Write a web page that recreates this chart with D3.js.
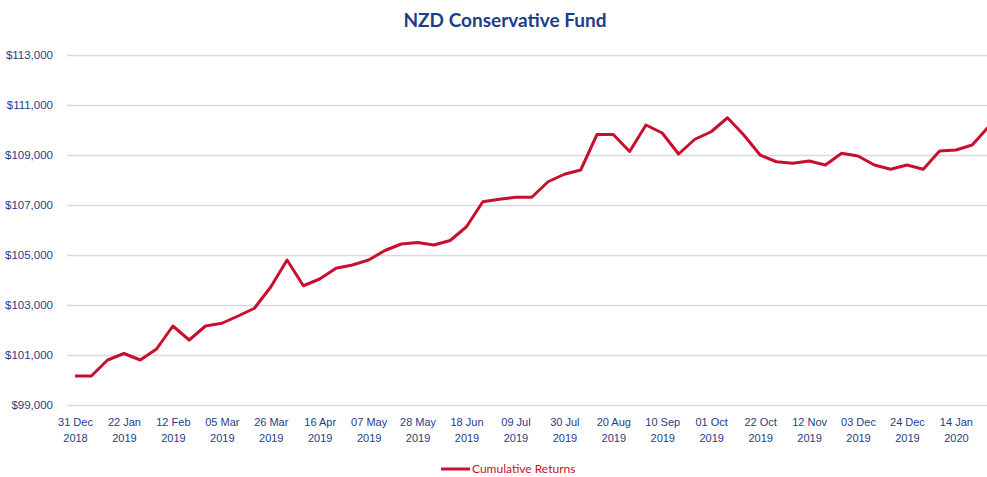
<!DOCTYPE html>
<html>
<head>
<meta charset="utf-8">
<script src="https://cdn.jsdelivr.net/npm/d3@7"></script>
<style>
	html, body { margin: 0; padding: 0; background: #fff; }
	svg { display: block; font-family: Lato, "Open Sans", sans-serif; }
</style>
</head>
<body>
<div id="chart"></div>
<script>
/* weekly valuation dates (first one is a Monday, the rest Tuesdays) */
const dates = [
	"31 Dec 2018", "08 Jan 2019", "15 Jan 2019", "22 Jan 2019", "29 Jan 2019", "05 Feb 2019",
	"12 Feb 2019", "19 Feb 2019", "26 Feb 2019", "05 Mar 2019", "12 Mar 2019", "19 Mar 2019",
	"26 Mar 2019", "02 Apr 2019", "09 Apr 2019", "16 Apr 2019", "23 Apr 2019", "30 Apr 2019",
	"07 May 2019", "14 May 2019", "21 May 2019", "28 May 2019", "04 Jun 2019", "11 Jun 2019",
	"18 Jun 2019", "25 Jun 2019", "02 Jul 2019", "09 Jul 2019", "16 Jul 2019", "23 Jul 2019",
	"30 Jul 2019", "06 Aug 2019", "13 Aug 2019", "20 Aug 2019", "27 Aug 2019", "03 Sep 2019",
	"10 Sep 2019", "17 Sep 2019", "24 Sep 2019", "01 Oct 2019", "08 Oct 2019", "15 Oct 2019",
	"22 Oct 2019", "29 Oct 2019", "05 Nov 2019", "12 Nov 2019", "19 Nov 2019", "26 Nov 2019",
	"03 Dec 2019", "10 Dec 2019", "17 Dec 2019", "24 Dec 2019", "31 Dec 2019", "07 Jan 2020",
	"14 Jan 2020", "21 Jan 2020", "28 Jan 2020"
];

/* cumulative returns */
const values = [
	100160, 100160, 100800, 101060, 100800, 101240,
	102160, 101600, 102160, 102270, 102560, 102870,
	103720, 104800, 103770, 104040, 104470, 104600,
	104800, 105180, 105440, 105500, 105400, 105580,
	106130, 107130, 107230, 107310, 107310, 107930,
	108230, 108400, 109820, 109820, 109140, 110200,
	109880, 109040, 109630, 109930, 110490, 109800,
	109000, 108730, 108670, 108760, 108600, 109070,
	108960, 108600, 108430, 108600, 108430, 109160,
	109200, 109400, 110130
];

const yTicks = [99000, 101000, 103000, 105000, 107000, 109000, 111000, 113000];
const seriesName = "Cumulative Returns";
const title = "NZD Conservative Fund";

const width = 987, height = 477;
const navy = "#1f3c88", red = "#c8102e", grid = "#d9d9d9";

const data = dates.map((d, i) => ({ date: d, value: values[i] }));

const svg = d3.select("#chart")
	.append("svg")
	.attr("width", width)
	.attr("height", height);

svg.append("rect").attr("width", width).attr("height", height).attr("fill", "#fff");

const x = d3.scalePoint().domain(dates).range([75, 988.5]);
const y = d3.scaleLinear().domain([99000, 113000]).range([405, 55]);

/* gridlines + y labels */
const yAxis = svg.append("g")
	.attr("transform", "translate(67,0)")
	.call(d3.axisLeft(y)
		.tickValues(yTicks)
		.tickSize(-(width - 67))
		.tickPadding(14)
		.tickFormat(d => "$" + d3.format(",")(d)));
yAxis.select(".domain").remove();
yAxis.selectAll("line").attr("stroke", grid).attr("stroke-width", 1.3);
yAxis.selectAll("text")
	.attr("fill", navy)
	.attr("font-size", "11.5px");

/* x labels, every third week, on two lines */
const xAxis = svg.append("g")
	.attr("transform", "translate(0,405)")
	.call(d3.axisBottom(x)
		.tickValues(dates.filter((d, i) => i % 3 === 0))
		.tickSize(0)
		.tickFormat(""));
xAxis.select(".domain").remove();
xAxis.selectAll(".tick").each(function(d) {
	const parts = d.split(" ");
	const t = d3.select(this).append("text")
		.attr("fill", navy)
		.attr("font-size", "11px")
		.attr("text-anchor", "middle");
	t.append("tspan").attr("x", 0).attr("y", 21).text(parts[0] + " " + parts[1]);
	t.append("tspan").attr("x", 0).attr("y", 37).text(parts[2]);
});

/* the series */
const line = d3.line()
	.x(d => x(d.date))
	.y(d => y(d.value));

svg.append("path")
	.datum(data)
	.attr("fill", "none")
	.attr("stroke", red)
	.attr("stroke-width", 3)
	.attr("stroke-linejoin", "round")
	.attr("d", line);

/* title */
svg.append("text")
	.attr("x", 505)
	.attr("y", 27)
	.attr("text-anchor", "middle")
	.attr("fill", navy)
	.attr("font-size", "19px")
	.attr("font-weight", "bold")
	.text(title);

/* legend */
const legend = svg.append("g").attr("transform", "translate(441,469)");
legend.append("line")
	.attr("x1", 0).attr("x2", 29)
	.attr("stroke", red)
	.attr("stroke-width", 3);
legend.append("text")
	.attr("x", 31)
	.attr("y", 4)
	.attr("fill", red)
	.attr("font-size", "12px")
	.text(seriesName);
</script>
</body>
</html>
